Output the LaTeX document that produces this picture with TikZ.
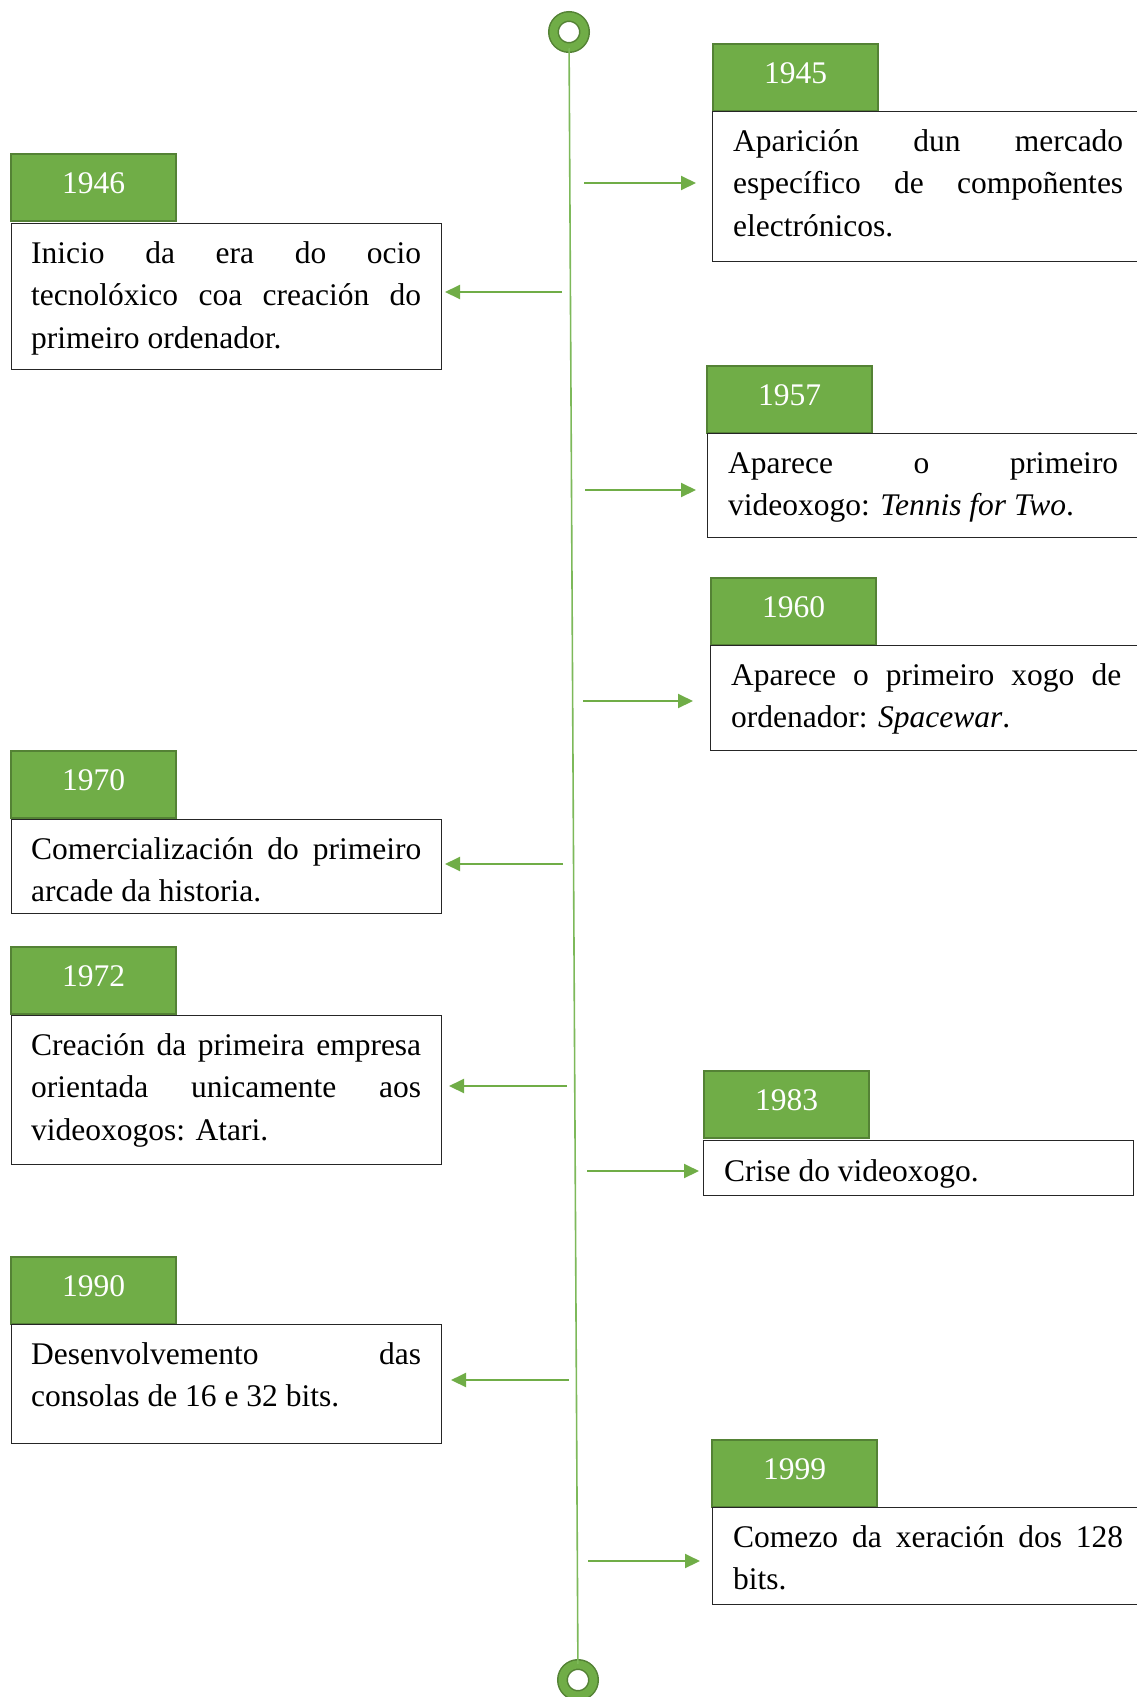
\documentclass[tikz,border=0pt]{standalone}
\usepackage{fontspec}
\setmainfont{Liberation Serif}
\usetikzlibrary{arrows.meta}
\definecolor{gmain}{HTML}{70AD47}
\definecolor{gdark}{HTML}{548235}
\definecolor{gline}{HTML}{7DB95A}
\newcommand\bodyfont{\fontsize{31.5pt}{42.7pt}\selectfont}
\hyphenpenalty=10000
\exhyphenpenalty=10000
\tikzset{
  yearbox/.style={draw=gdark, fill=gmain, line width=2pt, minimum width=165pt,
    minimum height=67pt, inner sep=0pt, anchor=north west, text=white, font=\bodyfont,
    text height=21pt, text depth=10pt},
  tbox/.style={draw=black!85, line width=1.3pt, minimum width=430pt, inner sep=0pt,
    anchor=north west},
  txt/.style={anchor=base west, inner sep=0pt, text width=390pt, align=justify, font=\bodyfont},
  ring/.style={circle, draw=gdark, double=gmain, double distance=8pt, line width=1.5pt,
    fill=white, minimum size=31pt, inner sep=0pt},
  timeline/.style={draw=gline, line width=1.6pt},
  arr/.style={draw=gline, line width=2pt, -{Triangle[length=15pt,width=14pt]}, color=gmain}
}
\begin{document}
\begin{tikzpicture}[x=1pt,y=-1pt]
\useasboundingbox (0,0) rectangle (1137,1697);
\clip (0,0) rectangle (1137,1697);

% timeline
\node[ring] (top) at (569,32) {};
\node[ring] (bot) at (578,1680) {};
\draw[timeline] (top) -- (bot);

% 1945
\node[yearbox] (y1945) at (712,43) {1945};
\node[tbox, minimum height=150pt] (b1945) at (712,111) {};
\node[txt] (t1945) at (733,151) {Aparición dun mercado\linebreak específico de compoñentes\linebreak electrónicos.};
\coordinate (s1945) at (584,183);
\coordinate (e1945) at (696,183);
\draw[arr] (s1945) -- (e1945);

% 1946
\node[yearbox] (y1946) at (10,153) {1946};
\node[tbox, minimum height=146pt] (b1946) at (11,223) {};
\node[txt] (t1946) at (31,263) {Inicio da era do ocio\linebreak tecnolóxico coa creación do\linebreak primeiro ordenador.};
\coordinate (s1946) at (562,292);
\coordinate (e1946) at (445,292);
\draw[arr] (s1946) -- (e1946);

% 1957
\node[yearbox] (y1957) at (706,365) {1957};
\node[tbox, minimum height=104pt] (b1957) at (707,433) {};
\node[txt] (t1957) at (728,473) {Aparece o primeiro\linebreak videoxogo: \textit{Tennis for Two}.};
\coordinate (s1957) at (585,490);
\coordinate (e1957) at (696,490);
\draw[arr] (s1957) -- (e1957);

% 1960
\node[yearbox] (y1960) at (710,577) {1960};
\node[tbox, minimum height=105pt] (b1960) at (710,645) {};
\node[txt] (t1960) at (731,685) {Aparece o primeiro xogo de\linebreak ordenador: \textit{Spacewar}.};
\coordinate (s1960) at (583,701);
\coordinate (e1960) at (693,701);
\draw[arr] (s1960) -- (e1960);

% 1970
\node[yearbox] (y1970) at (10,750) {1970};
\node[tbox, minimum height=94pt] (b1970) at (11,819) {};
\node[txt] (t1970) at (31,859) {Comercialización do primeiro\linebreak arcade da historia.};
\coordinate (s1970) at (563,864);
\coordinate (e1970) at (445,864);
\draw[arr] (s1970) -- (e1970);

% 1972
\node[yearbox] (y1972) at (10,946) {1972};
\node[tbox, minimum height=149pt] (b1972) at (11,1015) {};
\node[txt] (t1972) at (31,1055) {Creación da primeira empresa\linebreak orientada unicamente aos\linebreak videoxogos: Atari.};
\coordinate (s1972) at (567,1086);
\coordinate (e1972) at (449,1086);
\draw[arr] (s1972) -- (e1972);

% 1983
\node[yearbox] (y1983) at (703,1070) {1983};
\node[tbox, minimum height=55pt] (b1983) at (703,1140) {};
\node[txt] (t1983) at (724,1181) {Crise do videoxogo.};
\coordinate (s1983) at (587,1171);
\coordinate (e1983) at (699,1171);
\draw[arr] (s1983) -- (e1983);

% 1990
\node[yearbox] (y1990) at (10,1256) {1990};
\node[tbox, minimum height=119pt] (b1990) at (11,1324) {};
\node[txt] (t1990) at (31,1364) {Desenvolvemento das\linebreak consolas de 16 e 32 bits.};
\coordinate (s1990) at (569,1380);
\coordinate (e1990) at (451,1380);
\draw[arr] (s1990) -- (e1990);

% 1999
\node[yearbox] (y1999) at (711,1439) {1999};
\node[tbox, minimum height=97pt] (b1999) at (712,1507) {};
\node[txt] (t1999) at (733,1547) {Comezo da xeración dos 128\linebreak bits.};
\coordinate (s1999) at (588,1561);
\coordinate (e1999) at (700,1561);
\draw[arr] (s1999) -- (e1999);
\end{tikzpicture}
\end{document}
